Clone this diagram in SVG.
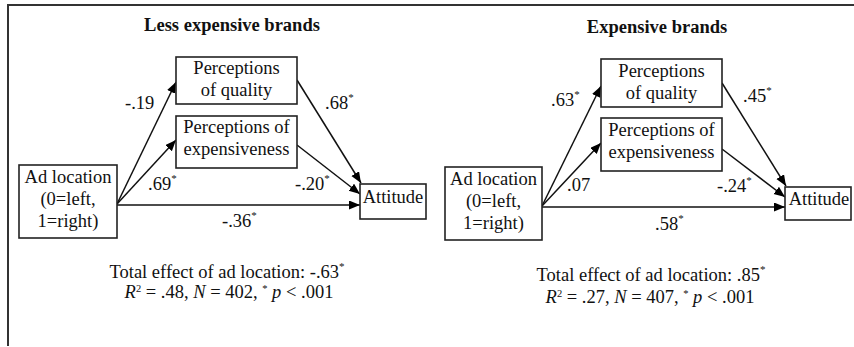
<svg xmlns="http://www.w3.org/2000/svg" width="854" height="347" viewBox="0 0 854 347" font-family="Liberation Serif, Times New Roman, serif">
<defs>
<marker id="ah" markerUnits="userSpaceOnUse" markerWidth="12" markerHeight="10" refX="11" refY="4.5" orient="auto">
<path d="M0,0 L11,4.5 L0,9 z" fill="#000"/>
</marker>
</defs>
<style>
text{font-family:'Liberation Serif','Times New Roman',serif;font-size:18.5px;fill:#111}
.c{text-anchor:middle}
.t{font-weight:bold}
.box{fill:#fff;stroke:#222;stroke-width:1.6}
.ln{stroke:#111;stroke-width:1.5;fill:none;marker-end:url(#ah)}
.s{font-size:11px}
.s2{font-size:10.5px}
.i{font-style:italic}
</style>
<rect width="854" height="347" fill="#fff"/>
<path d="M8,346 L8,5 L854,5" fill="none" stroke="#333" stroke-width="2"/>

<g id="connectors">
<line class="ln" x1="117" y1="204" x2="176" y2="82"/>
<line class="ln" x1="117" y1="204" x2="176" y2="140"/>
<line class="ln" x1="117" y1="205" x2="360" y2="205"/>
<line class="ln" x1="297" y1="80" x2="361" y2="183"/>
<line class="ln" x1="297" y1="145" x2="360" y2="194"/>
<line class="ln" x1="542" y1="206" x2="601" y2="86"/>
<line class="ln" x1="542" y1="206" x2="601" y2="143"/>
<line class="ln" x1="542" y1="207" x2="785" y2="207"/>
<line class="ln" x1="722" y1="83" x2="786" y2="186"/>
<line class="ln" x1="722" y1="149" x2="785" y2="197"/>
</g>

<g id="left-title"><text class="c t" x="232" y="31">Less expensive brands</text></g>
<g id="left-quality"><rect class="box" x="176" y="57" width="121" height="47"/>
<text class="c" x="236.5" y="74">Perceptions</text><text class="c" x="236.5" y="96">of quality</text></g>
<g id="left-expensiveness"><rect class="box" x="176" y="116" width="121" height="52"/>
<text class="c" x="236.5" y="133">Perceptions of</text><text class="c" x="236.5" y="155">expensiveness</text></g>
<g id="left-adlocation"><rect class="box" x="19" y="165" width="98" height="73"/>
<text class="c" x="68" y="183">Ad location</text><text class="c" x="68" y="205">(0=left,</text><text class="c" x="68" y="227">1=right)</text></g>
<g id="left-attitude"><rect class="box" x="360" y="184" width="66" height="35"/>
<text class="c" x="393" y="203">Attitude</text></g>
<g id="left-labels">
<text x="125" y="109">-.19</text>
<text x="325" y="109">.68<tspan class="s" dy="-8">*</tspan></text>
<text x="148" y="190">.69<tspan class="s" dy="-8">*</tspan></text>
<text x="295" y="190">-.20<tspan class="s" dy="-8">*</tspan></text>
<text x="222" y="227">-.36<tspan class="s" dy="-8">*</tspan></text>
<text class="c" x="227" y="278">Total effect of ad location: -.63<tspan class="s" dy="-8">*</tspan></text>
<text class="c" x="229" y="298"><tspan class="i">R</tspan><tspan class="s2" dy="-6.5">2</tspan><tspan dy="6.5"> = .48, </tspan><tspan class="i">N</tspan> = 402, <tspan class="s2" dy="-6.5">*</tspan><tspan dy="6.5"> </tspan><tspan class="i">p</tspan> &lt; .001</text>
</g>

<g id="right-title"><text class="c t" x="657" y="33">Expensive brands</text></g>
<g id="right-quality"><rect class="box" x="601" y="59" width="121" height="48"/>
<text class="c" x="661.5" y="77">Perceptions</text><text class="c" x="661.5" y="99">of quality</text></g>
<g id="right-expensiveness"><rect class="box" x="601" y="118" width="121" height="53"/>
<text class="c" x="661.5" y="136">Perceptions of</text><text class="c" x="661.5" y="158">expensiveness</text></g>
<g id="right-adlocation"><rect class="box" x="445" y="167" width="97" height="73"/>
<text class="c" x="493.5" y="185">Ad location</text><text class="c" x="493.5" y="207">(0=left,</text><text class="c" x="493.5" y="229">1=right)</text></g>
<g id="right-attitude"><rect class="box" x="785" y="187" width="66" height="33"/>
<text class="c" x="819" y="205">Attitude</text></g>
<g id="right-labels">
<text x="551" y="106">.63<tspan class="s" dy="-8">*</tspan></text>
<text x="743" y="102">.45<tspan class="s" dy="-8">*</tspan></text>
<text x="567" y="191">.07</text>
<text x="717" y="192">-.24<tspan class="s" dy="-8">*</tspan></text>
<text x="655" y="230">.58<tspan class="s" dy="-8">*</tspan></text>
<text class="c" x="651" y="281">Total effect of ad location: .85<tspan class="s" dy="-8">*</tspan></text>
<text class="c" x="650" y="303"><tspan class="i">R</tspan><tspan class="s2" dy="-6.5">2</tspan><tspan dy="6.5"> = .27, </tspan><tspan class="i">N</tspan> = 407, <tspan class="s2" dy="-6.5">*</tspan><tspan dy="6.5"> </tspan><tspan class="i">p</tspan> &lt; .001</text>
</g>
</svg>
